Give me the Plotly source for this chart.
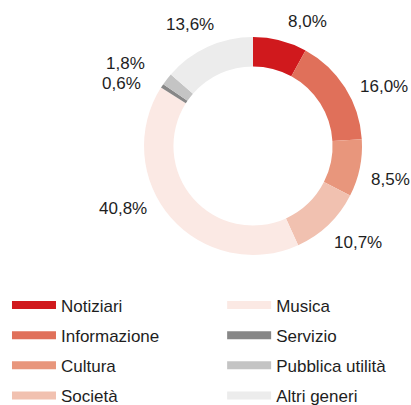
import math
import plotly.graph_objects as go

categories = ["Notiziari", "Informazione", "Cultura", "Società", "Musica", "Servizio", "Pubblica utilità", "Altri generi"]
values = [8.0, 16.0, 8.5, 10.7, 40.8, 0.6, 1.8, 13.6]
labels_text = ["8,0%", "16,0%", "8,5%", "10,7%", "40,8%", "0,6%", "1,8%", "13,6%"]
colors = ["#d0191d", "#e0705a", "#e8967c", "#f1c1b0", "#fbe9e4", "#878787", "#c4c4c4", "#ececec"]

# label nudges (px) applied on top of the automatic outside placement
label_nudge = [(4, -1), (7, 14), (2, 10), (-1, 1), (-17, -25), (-13, 13), (-14, 0), (11, -4)]

FONT = "Liberation Sans, Arial, sans-serif"
TXT = "#1e1e1e"
W, H = 411, 405
dom_x = [0.3504, 0.8808]
dom_y = [0.3704, 0.9086]

fig = go.Figure()
fig.add_trace(go.Pie(
    values=values, labels=categories,
    textinfo="none",
    marker=dict(colors=colors, line=dict(width=0)),
    hole=0.73, sort=False, direction="clockwise", rotation=0,
    domain=dict(x=dom_x, y=dom_y),
    showlegend=False, hoverinfo="skip",
))

# outside labels placed from the slice mid-angles
cx = (dom_x[0] + dom_x[1]) / 2 * W
cy = (1 - (dom_y[0] + dom_y[1]) / 2) * H
r_out = min((dom_x[1] - dom_x[0]) * W, (dom_y[1] - dom_y[0]) * H) / 2
R = r_out + 7
total = sum(values)
cum = 0.0
for v, t, (nx, ny) in zip(values, labels_text, label_nudge):
    mid = (cum + v / 2) / total * 2 * math.pi
    cum += v
    s, c = math.sin(mid), math.cos(mid)
    px = cx + R * s
    py = cy - R * c
    xa = "left" if s > 0.1 else ("right" if s < -0.1 else "center")
    ya = "bottom" if c > 0.3 else ("top" if c < -0.3 else "middle")
    fig.add_annotation(
        x=(px + nx) / W, y=1 - (py + ny) / H, xref="paper", yref="paper",
        text=t, showarrow=False, xanchor=xa, yanchor=ya,
        font=dict(family=FONT, size=17, color=TXT),
    )

for i, (c, col) in enumerate(zip(categories, colors)):
    fig.add_trace(go.Scatter(
        x=[None], y=[None], mode="lines", name=c,
        line=dict(color=col, width=8),
        legend="legend" if i < 4 else "legend2",
        legendgroup=c, showlegend=True,
    ))

leg_common = dict(
    font=dict(family=FONT, size=17, color=TXT),
    bgcolor="rgba(0,0,0,0)", tracegroupgap=5, traceorder="grouped",
    yanchor="top", xanchor="left", itemwidth=44,
)
fig.update_layout(
    width=W, height=H,
    margin=dict(l=0, r=0, t=0, b=0, autoexpand=False),
    paper_bgcolor="white", plot_bgcolor="white",
    xaxis=dict(visible=False), yaxis=dict(visible=False),
    legend=dict(x=0.017, y=0.29, **leg_common),
    legend2=dict(x=0.5405, y=0.29, **leg_common),
)
fig.write_html("out.html", config={"displayModeBar": False},
               post_script="document.body.style.margin='0';")
